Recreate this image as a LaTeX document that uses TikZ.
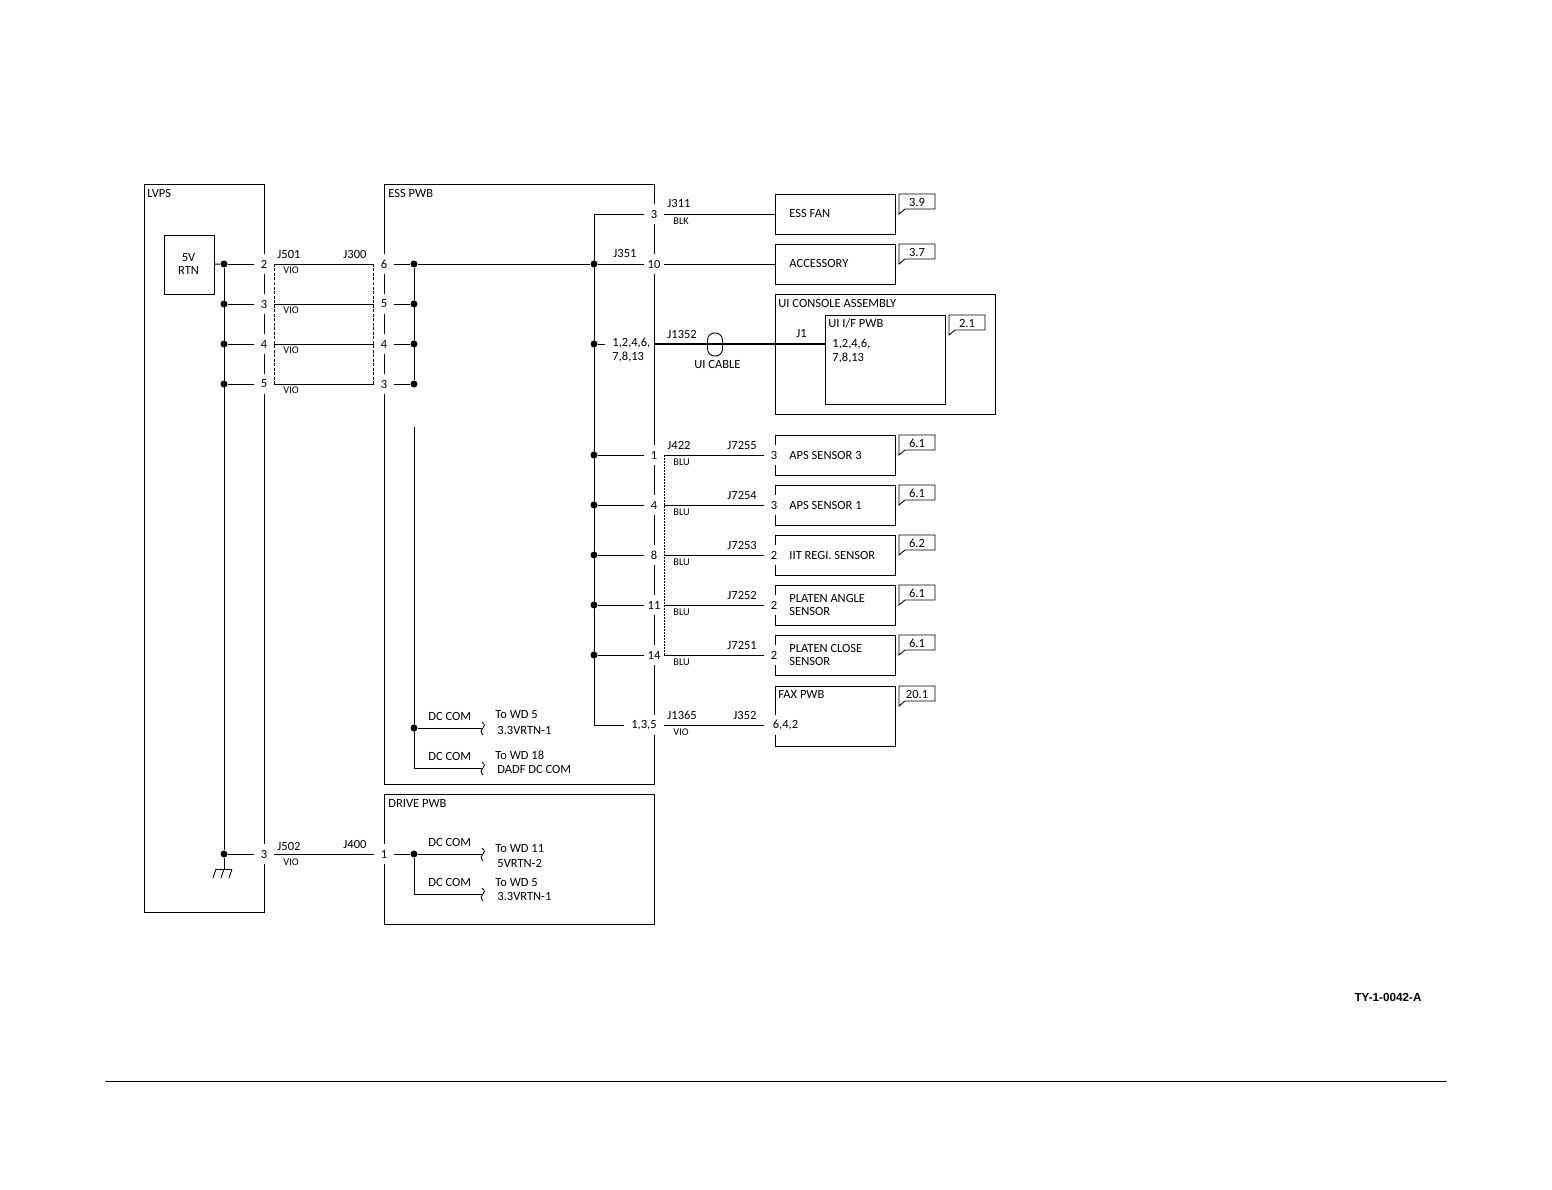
\documentclass[tikz,border=0pt]{standalone}
\usepackage{fontspec}
\setmainfont{Carlito}
\newfontfamily\idfont{Liberation Sans}
\tikzset{
  every path/.style={line width=.9pt},
  box/.style={draw, rectangle, inner sep=0pt},
  pin/.style={rectangle, fill=white, minimum width=20pt, minimum height=20pt, inner sep=0pt, font=\fontsize{12.5}{12.5}\selectfont},
  jdot/.style={circle, fill=black, minimum size=7pt, inner sep=0pt},
  lbl/.style={anchor=west, inner sep=0pt, align=left, font=\fontsize{12.5}{13.5}\selectfont},
  wirecol/.style={anchor=west, inner sep=0pt, font=\fontsize{10.3}{10.3}\selectfont}
}
\newcommand{\wdbreak}[1]{\draw[shift={(#1)}, line width=.8pt] (-1,-6) .. controls (2,-4) and (2,-1) .. (0,0) .. controls (-2,1) and (-3,4) .. (0,7);}
\newcommand{\reftag}[3]{\draw[shift={(#1,#2)}] (0,0) -- (36,0) -- (36,15) -- (6,15) -- (0,20) -- cycle; \node[inner sep=0pt, font=\fontsize{12.5}{12.5}\selectfont] (tag#1#2) at (#1+18,#2+8) {#3};}
\begin{document}
\begin{tikzpicture}[x=1pt,y=-1pt]
\useasboundingbox (0,0) rectangle (1552,1190);
% boards
\node[box, minimum width=120pt, minimum height=728pt] (lvps) at (204,548) {};
\node[box, minimum width=50pt, minimum height=59pt] (rtn) at (189,264.5) {};
\node[box, minimum width=270pt, minimum height=600pt] (ess) at (519,484) {};
\node[box, minimum width=270pt, minimum height=130pt] (drive) at (519,859) {};
\node[box, minimum width=120pt, minimum height=40pt] (fan) at (835,214) {};
\node[box, minimum width=120pt, minimum height=40pt] (acc) at (835,264) {};
\node[box, minimum width=220pt, minimum height=120pt] (console) at (885,354) {};
\node[box, minimum width=120pt, minimum height=89pt] (ifpwb) at (885,359.5) {};
\node[box, minimum width=120pt, minimum height=60pt] (fax) at (835,716) {};
\foreach \n/\y in {1/455,4/505,8/555,11/605,14/655}
  \node[box, minimum width=120pt, minimum height=40pt] (sens\n) at (835,\y) {};
% LVPS to ESS
\foreach \a/\b/\y in {2/6/264,3/5/304,4/4/344,5/3/384} {
  \node[pin] (pL\a) at (264,\y) {\a};
  \node[pin] (pE\b) at (384,\y) {\b};
  \node[jdot] (dL\a) at (224,\y) {};
  \node[jdot] (dE\b) at (414,\y) {};
  \draw (dL\a) -- (pL\a);
  \draw (pL\a) -- (pE\b);
  \draw (pE\b) -- (dE\b);
  \node[wirecol] (vio\a) at (283,\y+6.5) {VIO};
}
\draw[dashed, dash pattern=on 3pt off 1.5pt] (pL2.east) -- (pL5.east);
\draw[dashed, dash pattern=on 3pt off 1.5pt] (pE6.west) -- (pE3.west);
\draw (dE6) -- (dE3);
\draw (rtn) -- (dL2);
% ground
\node[jdot] (dG) at (224,854) {};
\coordinate (gnd) at (224,869);
\draw (dL2) -- (dG);
\draw (dG) -- (gnd);
\draw (216,869) -- (232,869);
\foreach \x in {216,224,232} \draw (\x,869) -- (\x-3,878);
\node[pin] (pG) at (264,854) {3};
\node[pin] (pD) at (384,854) {1};
\draw (dG) -- (pG);
\draw (pG) -- (pD);
% DC COM branches
\coordinate (esTop) at (414,427);
\coordinate (esBot) at (414,768);
\node[jdot] (dC) at (414,728) {};
\coordinate (wdA) at (483,728);
\coordinate (wdB) at (483,768);
\draw (esTop) -- (esBot);
\draw (dC) -- (wdA);
\draw (esBot) -- (wdB);
\node[jdot] (dD) at (414,854) {};
\coordinate (drBot) at (414,894);
\coordinate (wdC) at (483,854);
\coordinate (wdD) at (483,894);
\draw (pD) -- (dD);
\draw (dD) -- (wdC);
\draw (dD) -- (drBot);
\draw (drBot) -- (wdD);
\wdbreak{wdA}
\wdbreak{wdB}
\wdbreak{wdC}
\wdbreak{wdD}
% right hand bus
\node[pin] (p3) at (654,214) {3};
\node[pin] (p10) at (654,264) {10};
\node[pin, minimum width=40pt] (p135) at (644,725) {1,3,5};
\coordinate (busTop) at (594,214);
\coordinate (busBot) at (594,725);
\draw (p3) -- (busTop);
\draw (busTop) -- (busBot);
\draw (busBot) -- (p135);
\draw (p3) -- (fan);
\node[jdot] (d10) at (594,264) {};
\draw (dE6) -- (d10);
\draw (d10) -- (p10);
\draw (p10) -- (acc);
\node[jdot] (dUI) at (594,344) {};
\coordinate (stubUI) at (605,344);
\coordinate (essUI) at (654,344);
\coordinate (pwbUI) at (825,344);
\draw (dUI) -- (stubUI);
\draw[line width=1.1pt] (essUI) -- (pwbUI);
\node[draw, rectangle, rounded corners=7pt, minimum width=15pt, minimum height=23pt, inner sep=0pt] (cable) at (715,344.5) {};
% sensors
\foreach \n/\y/\r/\j in {1/455/3/J7255,4/505/3/J7254,8/555/2/J7253,11/605/2/J7252,14/655/2/J7251} {
  \node[jdot] (dS\n) at (594,\y) {};
  \node[pin] (pS\n) at (654,\y) {\n};
  \node[pin] (pR\n) at (774,\y) {\r};
  \draw (dS\n) -- (pS\n);
  \draw (pS\n) -- (pR\n);
  \node[lbl] (t\j) at (727,\y-10) {\j};
  \node[wirecol] (blu\n) at (673,\y+7) {BLU};
}
\draw[dashed, dash pattern=on 2pt off 1pt] (pS1.east) -- (pS14.east);
\node[pin, minimum width=42pt, anchor=west] (p642) at (764,725) {6,4,2};
\draw (p135) -- (p642);
% text
\node[lbl] (tLvps) at (147,193) {LVPS};
\node[align=center, inner sep=0pt, font=\fontsize{12.5}{12.5}\selectfont] (tRtn) at (188.5,264) {5V\\RTN};
\node[lbl] (tEss) at (388,193) {ESS PWB};
\node[lbl] (tDrive) at (388,803) {DRIVE PWB};
\node[lbl] (tJ501) at (277,254) {J501};
\node[lbl] (tJ300) at (343,254) {J300};
\node[lbl] (tJ502) at (277,846) {J502};
\node[lbl] (tJ400) at (343,844) {J400};
\node[wirecol] (tVioG) at (283,862) {VIO};
\node[lbl] (tJ311) at (667,203) {J311};
\node[wirecol] (tBlk) at (673,221) {BLK};
\node[lbl] (tJ351) at (613,253) {J351};
\node[lbl] (tJ1352) at (667,334) {J1352};
\node[lbl] (tUiPins) at (612,350) {1,2,4,6,\\7,8,13};
\node[lbl] (tCable) at (694,364) {UI CABLE};
\node[lbl] (tJ1) at (796,334) {J1};
\node[lbl] (tCons) at (778,303) {UI CONSOLE ASSEMBLY};
\node[lbl] (tIf) at (828,323) {UI I/F PWB};
\node[lbl] (tIfPins) at (832,351) {1,2,4,6,\\7,8,13};
\node[lbl] (tFan) at (789,213) {ESS FAN};
\node[lbl] (tAcc) at (789,263) {ACCESSORY};
\node[lbl] (tJ422) at (667,445) {J422};
\node[lbl] (tS1) at (789,455) {APS SENSOR 3};
\node[lbl] (tS4) at (789,505) {APS SENSOR 1};
\node[lbl] (tS8) at (789,555) {IIT REGI. SENSOR};
\node[lbl] (tS11) at (789,605) {PLATEN ANGLE\\SENSOR};
\node[lbl] (tS14) at (789,655) {PLATEN CLOSE\\SENSOR};
\node[lbl] (tFax) at (778,694) {FAX PWB};
\node[lbl] (tJ1365) at (667,715) {J1365};
\node[lbl] (tJ352) at (733,715) {J352};
\node[wirecol] (tVioF) at (673,732) {VIO};
\foreach \n/\y in {A/728,B/768,C/854,D/894}
  \node[lbl] (tCom\n) at (428,\y-12) {DC COM};
\node[lbl] (tToA) at (495,715) {To WD 5};
\node[lbl] (tSigA) at (497,730) {3.3VRTN-1};
\node[lbl] (tToB) at (495,755) {To WD 18};
\node[lbl] (tSigB) at (497,769) {DADF DC COM};
\node[lbl] (tToC) at (495,849) {To WD 11};
\node[lbl] (tSigC) at (497,863) {5VRTN-2};
\node[lbl] (tToD) at (495,883) {To WD 5};
\node[lbl] (tSigD) at (497,896) {3.3VRTN-1};
% reference tags
\reftag{899}{194}{3.9}
\reftag{899}{244}{3.7}
\reftag{949}{315}{2.1}
\reftag{899}{435}{6.1}
\reftag{899}{485}{6.1}
\reftag{899}{535}{6.2}
\reftag{899}{585}{6.1}
\reftag{899}{635}{6.1}
\reftag{899}{686}{20.1}
% sheet footer
\node[inner sep=0pt, font=\idfont\bfseries\fontsize{11.7}{11.7}\selectfont] (tId) at (1388,997) {TY-1-0042-A};
\coordinate (ruleL) at (105,1081);
\coordinate (ruleR) at (1447,1081);
\draw (ruleL) -- (ruleR);
\end{tikzpicture}
\end{document}
